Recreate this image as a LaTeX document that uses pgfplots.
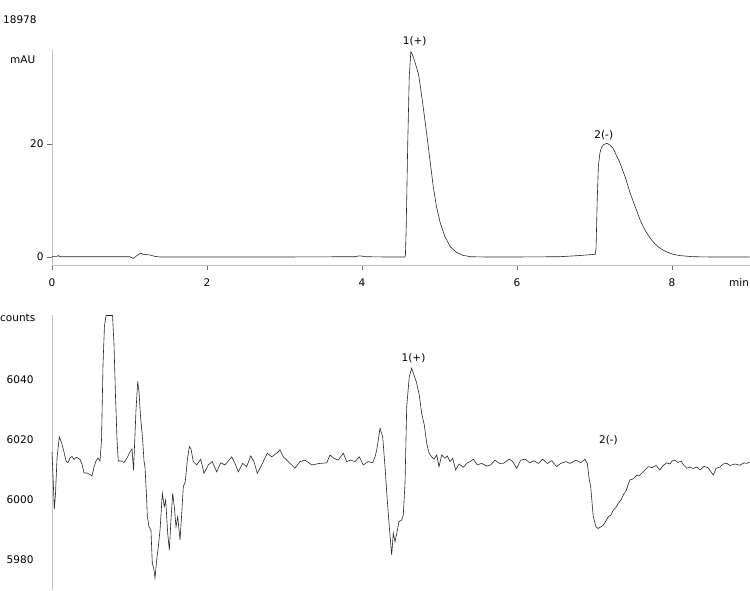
\documentclass[border=0pt]{standalone}
\usepackage{fontspec}
\setmainfont{DejaVu Sans}
\usepackage{pgfplots}
\pgfplotsset{compat=1.18}
\usepackage{pgfplotstable}

% UV trace (mAU) against time (min)
\pgfplotstableread{
t mAU
0.000 0.10
0.060 0.10
0.080 0.25
0.100 0.05
1.000 0.05
1.050 -0.25
1.100 0.30
1.145 0.70
1.170 0.50
1.200 0.45
1.265 0.35
1.330 0.10
1.400 0.00
2.000 0.00
3.000 0.00
3.900 0.05
3.970 0.20
4.050 0.05
4.300 0.00
4.550 0.00
4.560 0.20
4.570 5.00
4.590 20.0
4.610 32.0
4.630 36.3
4.650 35.8
4.680 34.6
4.730 32.3
4.780 27.5
4.830 22.3
4.880 16.8
4.920 12.4
4.960 9.00
5.010 6.00
5.070 3.60
5.140 1.80
5.220 0.80
5.300 0.30
5.400 0.05
5.600 0.00
6.000 0.00
6.550 0.05
6.800 0.25
7.010 0.48
7.020 1.50
7.035 10.0
7.050 16.0
7.070 18.4
7.090 19.4
7.120 19.9
7.160 20.1
7.200 19.8
7.240 19.2
7.330 16.6
7.400 14.0
7.460 11.3
7.530 8.70
7.590 6.50
7.650 4.80
7.720 3.30
7.780 2.30
7.850 1.50
7.930 0.90
8.010 0.50
8.100 0.25
8.270 0.05
8.500 0.00
9.000 0.00
}\uvdata

% detector counts against time (min)
\pgfplotstableread{
t counts
0.000 6016
0.013 6008
0.030 5997
0.045 6002
0.065 6014
0.094 6021
0.125 6019
0.155 6016
0.181 6013
0.206 6012.5
0.232 6014
0.258 6014.5
0.284 6013.5
0.310 6014.2
0.335 6014
0.361 6013.5
0.387 6012
0.413 6009
0.452 6009
0.490 6008.5
0.516 6008
0.542 6011
0.568 6013
0.594 6014
0.619 6013
0.639 6020
0.658 6045
0.677 6058
0.697 6061.5
0.735 6061.5
0.781 6061.5
0.800 6052
0.819 6035
0.839 6020
0.855 6013
0.890 6013
0.929 6012.5
0.968 6014
1.006 6016
1.032 6017
1.052 6010
1.084 6030
1.106 6039.5
1.123 6036
1.142 6028
1.170 6020
1.187 6013
1.200 6011
1.222 6000
1.230 5994.5
1.252 5991
1.277 5990
1.294 5979
1.316 5976.7
1.329 5974
1.351 5980
1.372 5984.4
1.394 5990
1.424 6002.2
1.449 5997.8
1.467 6000
1.493 5988.9
1.514 5983.3
1.535 5993.3
1.557 6002.2
1.578 5997.8
1.600 5991.1
1.622 5994.4
1.652 5986.7
1.674 5995.6
1.694 6004.4
1.720 6006.1
1.746 6013.3
1.772 6017.8
1.794 6017
1.823 6012.8
1.867 6011.7
1.919 6013.6
1.961 6008.9
2.017 6011.7
2.068 6012.8
2.125 6009.4
2.177 6012.4
2.232 6011.7
2.319 6014.4
2.361 6012.2
2.404 6009.4
2.461 6012.2
2.512 6011.1
2.564 6014.7
2.606 6012.8
2.649 6008.9
2.706 6011.7
2.778 6015.6
2.835 6014.4
2.899 6015.6
2.942 6016.7
2.985 6014.4
3.049 6012.8
3.135 6010.6
3.200 6012.8
3.265 6013.3
3.351 6011.7
3.458 6012.2
3.545 6012.4
3.587 6015
3.639 6013.9
3.694 6013.3
3.759 6015.6
3.803 6012.8
3.854 6013.3
3.910 6012.8
3.965 6014.4
4.017 6011.7
4.081 6012.8
4.138 6012.4
4.168 6014.4
4.190 6016.7
4.210 6020
4.232 6023.9
4.267 6021.1
4.297 6011.1
4.326 6000
4.352 5991.1
4.383 5981.7
4.404 5988.9
4.426 5986.1
4.448 5988.9
4.477 5992.8
4.512 5993.3
4.533 5995
4.555 6005.6
4.577 6031.1
4.610 6041.1
4.641 6043.9
4.675 6041.3
4.706 6038.9
4.739 6035
4.770 6028.9
4.804 6025
4.835 6018.9
4.865 6015.6
4.899 6014.4
4.929 6013.6
4.964 6015
4.994 6011.1
5.028 6015
5.071 6013.9
5.101 6014.7
5.135 6012.8
5.170 6013.9
5.209 6010
5.252 6012
5.307 6010.9
5.359 6012.4
5.394 6012.8
5.437 6013.6
5.488 6011.7
5.545 6012.2
5.609 6011.3
5.661 6011.7
5.716 6013.3
5.772 6012.2
5.823 6012.2
5.901 6013.6
5.945 6012.8
5.996 6010.6
6.048 6013.3
6.103 6013.6
6.168 6012.4
6.219 6013.1
6.275 6012.2
6.332 6013.6
6.391 6012.2
6.448 6013.1
6.512 6011.1
6.564 6012.2
6.632 6012.8
6.684 6012.2
6.761 6013.3
6.822 6012.4
6.877 6013.6
6.907 6012.2
6.933 6006.7
6.951 6004.4
6.984 5994.4
7.019 5991.1
7.045 5990.5
7.071 5990.9
7.110 5991.5
7.135 5992.5
7.178 5994.4
7.213 5995
7.243 5996.7
7.277 5997.5
7.307 5998.9
7.342 6000
7.372 6001.7
7.406 6003
7.432 6005
7.458 6006.7
7.497 6007
7.545 6008.3
7.574 6008
7.609 6008.9
7.652 6010
7.694 6011.1
7.742 6010.8
7.794 6011.5
7.845 6010
7.884 6011.5
7.932 6012.4
7.974 6012
8.000 6013
8.039 6013.3
8.077 6012.5
8.116 6013
8.155 6011.5
8.190 6010.6
8.232 6011
8.271 6010.5
8.323 6011
8.361 6010
8.413 6011.2
8.465 6010.8
8.533 6008.3
8.568 6010.5
8.619 6011
8.658 6012
8.706 6012.2
8.748 6011.5
8.813 6012
8.877 6011.6
8.929 6012.4
8.964 6012.2
9.000 6012.6
}\countdata

\pgfplotsset{
  chrom/.style={
    scale only axis,
    anchor=south west,
    width=697.5pt,
    xmin=0, xmax=9,
    clip=false,
    font=\fontsize{10.5}{12}\selectfont,
    tick label style={font=\fontsize{10.5}{12}\selectfont},
    /pgf/number format/assume math mode=true,
    /pgf/number format/1000 sep={},
    axis line style={black!25, line width=0.8pt, -},
    tick style={black!55, line width=0.6pt},
    tick align=outside,
    major tick length=5pt,
  },
  trace/.style={black!85, line width=0.6pt, no markers},
}

\begin{document}
\begin{tikzpicture}
\useasboundingbox (0,0) rectangle (750pt,590pt);

% top panel: UV
\begin{axis}[chrom,
  at={(52pt,325pt)}, height=215pt,
  ymin=-1.416, ymax=36.6,
  axis x line*=bottom, axis y line*=left,
  xtick={0,2,4,6,8}, ytick={0,20},
  xticklabel style={yshift=-5pt},
]
\addplot[trace] table[x=t, y=mAU] {\uvdata};
\node at (axis cs:4.68,38.1) {1(+)};
\node at (axis cs:7.12,21.6) {2(-)};
\end{axis}

% bottom panel: counts
\begin{axis}[chrom,
  at={(52pt,0pt)}, height=275pt,
  ymin=5970, ymax=6061.67,
  axis y line*=left, hide x axis,
  ytick={5980,6000,6020,6040},
  y tick style={draw=none},
  yticklabel style={xshift=-10pt},
]
\addplot[trace] table[x=t, y=counts] {\countdata};
\node at (axis cs:4.665,6047.2) {1(+)};
\node at (axis cs:7.18,6020) {2(-)};
\end{axis}

\node[anchor=west, font=\fontsize{10.5}{12}\selectfont, inner sep=0pt] at (3pt,570pt) {18978};
\node[anchor=west, font=\fontsize{10.5}{12}\selectfont, inner sep=0pt] at (10pt,530pt) {mAU};
\node[anchor=west, font=\fontsize{10.5}{12}\selectfont, inner sep=0pt] at (729pt,307pt) {min};
\node[anchor=west, font=\fontsize{10.5}{12}\selectfont, inner sep=0pt] at (0pt,272pt) {counts};
\end{tikzpicture}
\end{document}
